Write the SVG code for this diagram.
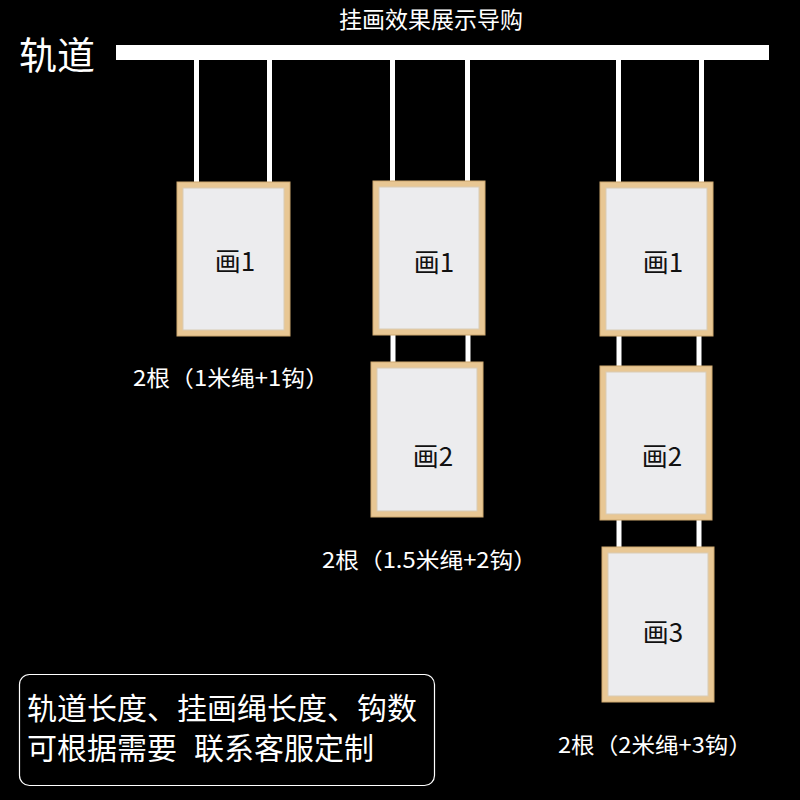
<svg xmlns="http://www.w3.org/2000/svg" width="800" height="800" viewBox="0 0 800 800">
<style>
.cjk{font-family:"Noto Sans CJK SC","Noto Sans",sans-serif;}
.wht{fill:#ffffff;}
.wood{fill:#e8c794;stroke:#cfa970;stroke-width:1;}
.paper{fill:#ececee;stroke:#d9ccb4;stroke-width:1;}
.lbl{font-family:"Noto Sans CJK SC","Noto Sans",sans-serif;font-size:26px;fill:#111;text-anchor:middle;}
.cap{font-family:"Noto Sans CJK SC","Noto Sans",sans-serif;font-size:22px;fill:#ffffff;}
.rope{stroke:#ffffff;stroke-width:5;}
</style>
<rect width="800" height="800" fill="#000"/>
<text class="cjk" x="431" y="28" font-size="23" fill="#fff" text-anchor="middle">挂画效果展示导购</text>
<g id="rail">
<text class="cjk" x="19" y="69" font-size="38" fill="#fff">轨道</text>
<rect x="116" y="45" width="653" height="15" class="wht"/>
</g>
<g id="connectors">
<line class="rope" x1="196.5" y1="60" x2="196.5" y2="182"/>
<line class="rope" x1="269.5" y1="60" x2="269.5" y2="182"/>
<line class="rope" x1="392.5" y1="60" x2="392.5" y2="182"/>
<line class="rope" x1="467.5" y1="60" x2="467.5" y2="182"/>
<line class="rope" x1="393" y1="335" x2="393" y2="362"/>
<line class="rope" x1="468" y1="335" x2="468" y2="362"/>
<line class="rope" x1="618.5" y1="60" x2="618.5" y2="182"/>
<line class="rope" x1="701.5" y1="60" x2="701.5" y2="182"/>
<line class="rope" x1="619" y1="336" x2="619" y2="366"/>
<line class="rope" x1="699" y1="336" x2="699" y2="366"/>
<line class="rope" x1="619" y1="520" x2="619" y2="547"/>
<line class="rope" x1="699" y1="520" x2="699" y2="547"/>
</g>
<g id="frameA1">
<rect class="wood" x="177" y="182" width="113" height="154"/>
<rect class="paper" x="183" y="188" width="101" height="142"/>
<text class="lbl" x="235" y="271">画1</text>
</g>
<g id="frameB1">
<rect class="wood" x="373" y="181" width="112" height="154"/>
<rect class="paper" x="379" y="187" width="100" height="142"/>
<text class="lbl" x="434" y="272">画1</text>
</g>
<g id="frameB2">
<rect class="wood" x="371" y="362" width="112" height="155"/>
<rect class="paper" x="377" y="368" width="100" height="143"/>
<text class="lbl" x="433" y="466">画2</text>
</g>
<g id="frameC1">
<rect class="wood" x="600" y="182" width="113" height="154"/>
<rect class="paper" x="606" y="188" width="101" height="142"/>
<text class="lbl" x="663" y="272">画1</text>
</g>
<g id="frameC2">
<rect class="wood" x="600" y="366" width="112" height="154"/>
<rect class="paper" x="606" y="372" width="100" height="142"/>
<text class="lbl" x="662" y="466">画2</text>
</g>
<g id="frameC3">
<rect class="wood" x="602" y="547" width="112" height="155"/>
<rect class="paper" x="608" y="553" width="100" height="143"/>
<text class="lbl" x="663" y="642">画3</text>
</g>
<g id="captions">
<text class="cap" x="133" y="386" textLength="196" lengthAdjust="spacingAndGlyphs">2根（1米绳+1钩）</text>
<text class="cap" x="322" y="568" textLength="215" lengthAdjust="spacingAndGlyphs">2根（1.5米绳+2钩）</text>
<text class="cap" x="558" y="753" textLength="194" lengthAdjust="spacingAndGlyphs">2根（2米绳+3钩）</text>
</g>
<g id="note">
<rect x="19.5" y="674.5" width="415" height="111" rx="10" fill="none" stroke="#fff" stroke-width="1.2"/>
<text class="cjk" x="27" y="719" font-size="30" fill="#fff">轨道长度、挂画绳长度、钩数</text>
<text class="cjk" x="27" y="759" font-size="30" fill="#fff">可根据需要</text>
<text class="cjk" x="194" y="759" font-size="30" fill="#fff">联系客服定制</text>
</g>
</svg>
